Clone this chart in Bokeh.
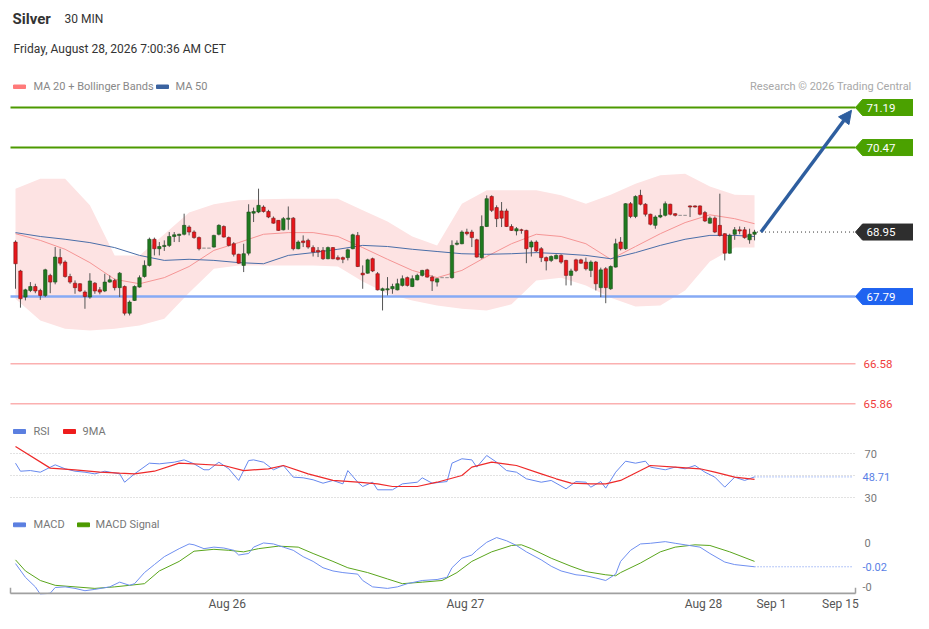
from bokeh.plotting import figure
from bokeh.layouts import column
from bokeh.models import Range1d, ColumnDataSource, Arrow, NormalHead, FixedTicker
from bokeh.core.properties import value
from bokeh.embed import file_html
from bokeh.resources import INLINE

FONT = "Roboto"
W = 913

# ---------------- data ----------------
open_ = [68.77, 68.25, 67.78, 67.90, 67.97, 67.90, 67.81, 68.17, 68.05, 68.49,
         68.41, 68.15, 68.03, 68.02, 67.87, 67.78, 68.03, 67.91, 67.89, 68.05,
         68.08, 67.95, 67.97, 67.49, 67.72, 67.96, 68.15, 68.35, 68.82, 68.65,
         68.69, 68.71, 68.87, 68.89, 68.91, 69.04, 68.95, 68.85, 68.66, 68.66,
         68.68, 68.91, 69.05, 68.85, 68.74, 68.55, 68.35, 68.57, 69.29, 69.31,
         69.40, 69.32, 69.20, 69.16, 68.99, 69.18, 69.20, 68.65, 68.79, 68.80,
         68.67, 68.62, 68.62, 68.47, 68.67, 68.49, 68.49, 68.49, 68.65, 68.89,
         68.21, 68.21, 68.47, 68.20, 67.90, 67.91, 67.93, 67.91, 67.99, 68.13,
         67.97, 68.09, 68.17, 68.27, 68.14, 68.05, 68.13, 68.13, 68.13, 68.73,
         68.74, 68.95, 68.95, 68.81, 68.49, 69.05, 69.59, 69.39, 69.33, 69.33,
         69.05, 68.97, 68.99, 68.98, 68.68, 68.77, 68.65, 68.49, 68.44, 68.47,
         68.53, 68.44, 68.17, 68.45, 68.45, 68.41, 68.26, 68.41, 67.95, 68.29,
         67.93, 68.32, 68.77, 68.65, 69.46, 69.23, 69.61, 69.45, 69.27, 69.07,
         69.22, 69.25, 69.45, 69.28, 69.25, 69.25, 69.42, 69.42, 69.42, 69.30,
         69.11, 69.20, 69.07, 68.92, 68.57, 68.91, 68.99, 68.99, 68.81, 68.91]
close = [68.38, 67.75, 67.91, 67.97, 67.89, 67.81, 68.27, 68.05, 68.50, 68.39,
         68.15, 68.05, 67.95, 67.89, 67.79, 68.07, 67.89, 67.87, 68.05, 68.09,
         67.95, 68.21, 67.49, 67.69, 67.97, 68.13, 68.35, 68.82, 68.65, 68.69,
         68.71, 68.87, 68.90, 68.91, 69.07, 68.95, 68.85, 68.65, 68.66, 68.66,
         68.89, 69.07, 68.86, 68.71, 68.55, 68.39, 68.56, 69.31, 69.32, 69.43,
         69.32, 69.22, 69.11, 68.98, 69.19, 69.20, 68.65, 68.77, 68.76, 68.68,
         68.59, 68.59, 68.47, 68.67, 68.47, 68.46, 68.46, 68.63, 68.90, 68.33,
         68.18, 68.45, 68.25, 67.91, 67.93, 67.93, 67.97, 68.02, 68.11, 67.99,
         68.11, 68.17, 68.26, 68.14, 68.07, 68.11, 68.13, 68.13, 68.71, 68.75,
         68.95, 68.92, 68.85, 68.50, 69.05, 69.55, 69.34, 69.19, 69.20, 69.05,
         68.98, 69.01, 68.98, 68.65, 68.77, 68.61, 68.49, 68.43, 68.51, 68.53,
         68.41, 68.17, 68.25, 68.26, 68.39, 68.29, 68.41, 68.02, 68.27, 67.95,
         68.33, 68.74, 68.65, 69.46, 69.23, 69.59, 69.45, 69.27, 69.09, 69.22,
         69.25, 69.46, 69.27, 69.25, 69.25, 69.25, 69.40, 69.40, 69.27, 69.15,
         69.20, 68.95, 68.89, 68.57, 68.89, 68.99, 68.97, 68.85, 68.91, 68.95]
high = [68.80, 68.27, 67.93, 68.05, 68.02, 67.93, 68.29, 68.20, 68.68, 68.65,
        68.44, 68.20, 68.08, 68.03, 67.90, 68.21, 68.05, 67.96, 68.20, 68.17,
        68.11, 68.23, 67.99, 67.72, 67.99, 68.17, 68.44, 68.85, 68.85, 68.77,
        68.80, 68.95, 68.95, 68.92, 69.28, 69.07, 68.98, 68.87, 68.66, 68.66,
        68.90, 69.09, 69.07, 68.87, 68.77, 68.56, 68.74, 69.45, 69.39, 69.73,
        69.43, 69.35, 69.23, 69.16, 69.22, 69.41, 69.22, 68.80, 68.89, 68.83,
        68.71, 68.68, 68.68, 68.69, 68.68, 68.53, 68.51, 68.65, 68.92, 68.95,
        68.35, 68.47, 68.49, 68.23, 67.95, 68.14, 68.02, 68.11, 68.17, 68.15,
        68.17, 68.20, 68.27, 68.29, 68.17, 68.12, 68.13, 68.13, 68.80, 68.80,
        68.98, 69.01, 68.99, 68.83, 69.25, 69.61, 69.61, 69.43, 69.49, 69.37,
        69.09, 69.04, 69.01, 68.99, 68.80, 68.80, 68.68, 68.51, 68.53, 68.55,
        68.55, 68.45, 68.29, 68.47, 68.47, 68.49, 68.44, 68.43, 68.31, 68.32,
        68.35, 68.83, 68.86, 69.47, 69.49, 69.61, 69.71, 69.47, 69.28, 69.25,
        69.37, 69.50, 69.46, 69.29, 69.25, 69.25, 69.43, 69.43, 69.43, 69.33,
        69.23, 69.23, 69.64, 68.93, 68.92, 69.04, 69.05, 69.04, 69.01, 68.99]
low = [67.93, 67.59, 67.72, 67.87, 67.85, 67.73, 67.78, 67.85, 68.01, 68.35,
       68.13, 68.02, 67.84, 67.87, 67.57, 67.75, 67.84, 67.83, 67.87, 68.04,
       67.90, 67.78, 67.45, 67.45, 67.71, 67.95, 68.13, 68.33, 68.53, 68.53,
       68.61, 68.68, 68.77, 68.77, 68.89, 68.89, 68.83, 68.62, 68.66, 68.66,
       68.67, 68.89, 68.85, 68.69, 68.51, 68.38, 68.23, 68.53, 69.13, 69.29,
       69.30, 69.20, 69.10, 68.97, 68.98, 68.99, 68.62, 68.64, 68.68, 68.65,
       68.51, 68.50, 68.45, 68.46, 68.46, 68.44, 68.39, 68.44, 68.64, 68.32,
       67.93, 68.20, 68.23, 67.90, 67.54, 67.81, 67.84, 67.90, 67.97, 67.97,
       67.96, 68.08, 68.15, 68.13, 67.89, 67.97, 68.13, 68.13, 68.11, 68.71,
       68.73, 68.89, 68.68, 68.49, 68.47, 69.04, 69.31, 69.04, 69.04, 69.04,
       68.97, 68.89, 68.92, 68.39, 68.51, 68.59, 68.41, 68.26, 68.41, 68.46,
       68.38, 67.99, 67.99, 68.23, 68.38, 68.26, 68.14, 67.90, 67.78, 67.67,
       67.91, 68.31, 68.62, 68.63, 69.20, 69.20, 69.43, 69.23, 69.07, 69.01,
       69.20, 69.23, 69.25, 69.23, 69.25, 69.25, 69.22, 69.39, 69.25, 69.13,
       69.10, 68.93, 68.87, 68.44, 68.56, 68.81, 68.91, 68.83, 68.74, 68.80]

band_idx = [0, 5, 10, 15, 20, 25, 30, 35, 40, 45, 50, 55, 60, 65, 70, 75,
            80, 85, 90, 95, 100, 105, 110, 115, 120, 125, 130, 135, 140, 145, 149]
bb_upper = [69.73, 69.91, 69.91, 69.43, 68.53, 68.53, 68.91, 69.30, 69.45, 69.52,
            69.54, 69.55, 69.55, 69.55, 69.34, 69.14, 68.87, 68.71, 69.46, 69.70,
            69.70, 69.70, 69.61, 69.46, 69.62, 69.82, 69.97, 70.00, 69.77, 69.62, 69.61]
bb_lower = [67.75, 67.36, 67.21, 67.18, 67.21, 67.27, 67.39, 67.86, 68.29, 68.35,
            68.35, 68.35, 68.35, 68.33, 68.06, 67.84, 67.72, 67.63, 67.57, 67.54,
            67.65, 68.08, 68.13, 67.99, 67.77, 67.61, 67.63, 67.90, 68.42, 68.67, 68.67]
ma20 = [68.92, 68.80, 68.64, 68.40, 68.10, 68.02, 68.13, 68.33, 68.62, 68.76,
        68.91, 68.94, 68.94, 68.87, 68.67, 68.46, 68.26, 68.13, 68.26, 68.51,
        68.74, 68.91, 68.87, 68.74, 68.46, 68.69, 68.92, 69.12, 69.26, 69.19, 69.10]
ma50 = [68.94, 68.87, 68.82, 68.76, 68.67, 68.53, 68.44, 68.46, 68.44, 68.40,
        68.38, 68.53, 68.58, 68.64, 68.71, 68.69, 68.64, 68.60, 68.56, 68.55,
        68.56, 68.58, 68.56, 68.53, 68.47, 68.58, 68.71, 68.82, 68.89, 68.89, 68.87]

resistances = [71.19, 70.47]
supports = [67.79]
far_supports = [66.58, 65.86]
last_price = 68.95

rsi_idx = [0, 1, 3, 5, 8, 10, 12, 14, 16, 18, 21, 22, 24, 27, 29, 32, 34, 36, 38, 39,
           41, 43, 45, 47, 48, 50, 52, 54, 56, 58, 60, 62, 64, 66, 67, 69, 70, 72, 73, 76,
           78, 81, 82, 84, 87, 88, 90, 92, 93, 95, 97, 99, 101, 103, 106, 108, 111, 113, 115, 116,
           118, 119, 121, 123, 125, 127, 128, 131, 133, 135, 137, 139, 141, 143, 145, 147, 149]
rsi_val = [61.2, 53.9, 54.5, 53.0, 59.7, 56.1, 53.9, 53.0, 51.5, 53.9, 51.5, 43.9, 51.5, 61.2, 60.6, 62.1, 64.2, 60.6, 55.2, 55.2,
           62.1, 56.1, 45.5, 63.6, 64.2, 62.1, 55.2, 59.1, 48.5, 47.9, 46.1, 43.0, 45.5, 42.4, 54.5, 43.9, 40.0, 43.9, 37.0, 37.0,
           42.4, 43.9, 47.9, 43.0, 44.5, 61.2, 65.2, 64.2, 57.6, 68.2, 62.1, 54.5, 53.0, 47.0, 43.9, 45.5, 37.9, 44.5, 43.9, 39.4,
           44.5, 38.5, 53.0, 63.0, 61.2, 63.0, 57.6, 55.2, 57.6, 56.1, 59.1, 53.0, 48.5, 39.4, 48.5, 45.5, 48.71]
rsi_ma_idx = [0, 7, 12, 17, 21, 24, 28, 33, 42, 46, 51, 54, 59, 64, 69, 73, 76, 81,
              85, 90, 92, 96, 101, 106, 109, 112, 116, 119, 122, 126, 128, 133, 138, 141, 145, 149]
rsi_ma_val = [76.4, 56.7, 55.2, 53.0, 52.1, 51.5, 53.9, 61.2, 59.1, 54.5, 56.1, 59.1, 51.5, 45.5, 43.9, 42.4, 40.0, 40.0,
              43.9, 50.0, 57.6, 62.1, 59.1, 51.5, 47.0, 43.0, 42.4, 42.4, 45.5, 54.5, 59.1, 57.6, 56.1, 53.0, 48.5, 46.4]
rsi_levels = [70, 50, 30]
rsi_ticks = [70, 30]

macd_idx = [0, 2, 4, 5, 7, 8, 10, 12, 14, 16, 19, 21, 23, 24, 26, 28, 30, 33, 35, 36,
            38, 40, 42, 44, 45, 47, 48, 50, 52, 54, 56, 58, 60, 62, 64, 66, 69, 70, 72, 75,
            77, 79, 82, 85, 87, 88, 90, 92, 93, 95, 97, 99, 101, 103, 106, 108, 110, 113, 115, 117,
            119, 121, 122, 124, 126, 128, 131, 133, 135, 138, 140, 143, 145, 149]
macd_val = [-0.0188, -0.0313, -0.0400, -0.0467, -0.0458, -0.0406, -0.0400, -0.0414, -0.0435, -0.0423,
            -0.0400, -0.0357, -0.0386, -0.0371, -0.0270, -0.0197, -0.0125, -0.0052, -0.0009, -0.0017,
            -0.0052, -0.0038, -0.0046, -0.0067, -0.0110, -0.0096, -0.0038, 0.0000, -0.0009, -0.0038,
            -0.0067, -0.0125, -0.0168, -0.0226, -0.0255, -0.0270, -0.0284, -0.0342, -0.0400, -0.0414,
            -0.0400, -0.0371, -0.0342, -0.0333, -0.0313, -0.0226, -0.0139, -0.0110, -0.0067, 0.0006,
            0.0049, 0.0020, -0.0023, -0.0081, -0.0154, -0.0212, -0.0255, -0.0290, -0.0299, -0.0319,
            -0.0342, -0.0284, -0.0168, -0.0067, -0.0009, -0.0003, 0.0012, -0.0003, -0.0017, -0.0038,
            -0.0096, -0.0174, -0.0197, -0.0217]
sig_idx = [0, 2, 5, 8, 12, 16, 20, 23, 26, 29, 33, 36, 40, 43, 46, 49, 53, 57, 60, 64,
           67, 71, 75, 78, 82, 86, 89, 92, 96, 100, 102, 104, 108, 112, 115, 119, 121, 122, 126, 130,
           133, 137, 140, 144, 149]
sig_val = [-0.0154, -0.0255, -0.0342, -0.0386, -0.0400, -0.0414, -0.0400, -0.0386, -0.0371, -0.0255,
           -0.0168, -0.0075, -0.0058, -0.0067, -0.0081, -0.0052, -0.0029, -0.0038, -0.0096, -0.0168,
           -0.0226, -0.0270, -0.0328, -0.0371, -0.0357, -0.0342, -0.0270, -0.0168, -0.0081, -0.0023,
           -0.0017, -0.0052, -0.0139, -0.0212, -0.0261, -0.0290, -0.0299, -0.0270, -0.0183, -0.0081,
           -0.0038, -0.0017, -0.0023, -0.0081, -0.0168]
macd_ticks = [0.0, -0.04]
macd_tick_labels = ["0", "-0"]
macd_last_label = "-0.02"

tick_pos = [42.7, 90.7, 138.7, 152.4, 166.3]
tick_labels = ["Aug 26", "Aug 27", "Aug 28", "Sep 1", "Sep 15"]


# ---------------- layout helpers (canvas pixel -> data) ----------------
def ix(px):
    return (px - 15.0) / 4.96


def py(pyy):
    return 71.19 - (pyy - 107.0) / 55.6


def ry(pyy):
    return 70.0 - (pyy - 453.0) / 1.1


def my(pyy):
    return -(pyy - 544.0) / 1150.0


x_range = Range1d(ix(0), ix(W))


def make_fig(h, yr, axis=False, bottom=0):
    p = figure(width=W, height=h, x_range=x_range, y_range=yr, output_backend="svg",
               toolbar_location=None, x_axis_location=("below" if axis else None),
               y_axis_location=None,
               min_border=0, min_border_left=0, min_border_right=0, min_border_top=0,
               min_border_bottom=bottom, outline_line_color=None,
               background_fill_color="white", border_fill_color="white")
    p.grid.visible = False
    return p


def txt(p, x, y, s, color="#333333", size="11px", align="left", style="normal"):
    p.text(x=[x], y=[y], text=[s], text_color=color, text_font_size=size,
           text_align=align, text_baseline="middle", text_font=value(FONT),
           text_font_style=value(style))


L0, L1 = ix(10), ix(855)

# ---------------- price panel ----------------
pp = make_fig(415, Range1d(py(415), py(0)))

pp.varea(x=band_idx, y1=bb_lower, y2=bb_upper, fill_color="#fde3e3")
pp.line(band_idx, ma20, line_color="#f59595", line_width=1)
pp.line(band_idx, ma50, line_color="#4a6ea8", line_width=1)

pp.segment(x0=[L0] * 2, y0=resistances, x1=[L1] * 2, y1=resistances,
           line_color="#4c9a00", line_width=2)
pp.segment(x0=[L0], y0=supports, x1=[L1], y1=supports, line_color="#86aaf5", line_width=2.5)
pp.segment(x0=[L0] * 2, y0=far_supports, x1=[L1] * 2, y1=far_supports,
           line_color="#fbb0b0", line_width=1.5)

idx = list(range(len(close)))
fill = []
edge = []
for o, c in zip(open_, close):
    if c > o:
        fill.append("#1f7a1f"); edge.append("#1d4d1d")
    elif c < o:
        fill.append("#e8161b"); edge.append("#7a1a1a")
    else:
        fill.append("#888888"); edge.append("#888888")
src = ColumnDataSource(dict(x=idx, o=open_, c=close, h=high, l=low,
                            top=[max(a, b) for a, b in zip(open_, close)],
                            bot=[min(a, b) for a, b in zip(open_, close)],
                            fill=fill, edge=edge))
pp.segment(x0="x", y0="l", x1="x", y1="h", source=src, line_color="#555555", line_width=1)
pp.vbar(x="x", width=0.68, top="top", bottom="bot", source=src,
        fill_color="fill", line_color="edge", line_width=0.6)

pp.segment(x0=[len(close) - 0.5], y0=[last_price], x1=[L1], y1=[last_price],
           line_color="#333333", line_width=1, line_dash="1 3")

ac = "#2e5e9f"
pp.add_layout(Arrow(end=NormalHead(size=13, fill_color=ac, line_color=ac),
                    x_start=len(close) + 0.3, y_start=last_price,
                    x_end=ix(851), y_end=resistances[0] - 0.05,
                    line_color=ac, line_width=3.5))

hh = 8.0 / 55.6
badge_levels = resistances + [last_price] + supports
badge_colors = ["#4ba100", "#4ba100", "#2e2e2e", "#1f63f0"]
xs = [[ix(855), ix(862), ix(W + 5), ix(W + 5), ix(862)] for _ in badge_levels]
ys = [[v, v + hh, v + hh, v - hh, v - hh] for v in badge_levels]
pp.patches(xs=xs, ys=ys, fill_color=badge_colors, line_color=badge_colors)
pp.text(x=[ix(866)] * len(badge_levels), y=badge_levels,
        text=["%.2f" % v for v in badge_levels], text_color="white", text_font_size="11.5px",
        text_baseline="middle", text_font=value(FONT))
pp.text(x=[ix(863)] * len(far_supports), y=far_supports,
        text=["%.2f" % v for v in far_supports], text_color="#f03c3c", text_font_size="11.5px",
        text_baseline="middle", text_font=value(FONT))

txt(pp, ix(12), py(18), "Silver", color="#333333", size="15px", style="bold")
txt(pp, ix(64), py(18), "30 MIN", color="#333333", size="12px")
txt(pp, ix(13), py(48), "Friday, August 28, 2026 7:00:36 AM CET", color="#333333", size="12px")
pp.quad(left=[ix(13)], right=[ix(25)], top=[py(84.5)], bottom=[py(88)], color="#ff7a7a")
txt(pp, ix(33), py(86), "MA 20 + Bollinger Bands", color="#888888")
pp.quad(left=[ix(156)], right=[ix(168)], top=[py(84.5)], bottom=[py(88)], color="#3b63a0")
txt(pp, ix(175), py(86), "MA 50", color="#888888")
txt(pp, ix(911), py(86), "Research © 2026 Trading Central", color="#a8a8a8", align="right")

# ---------------- RSI panel ----------------
pr = make_fig(95, Range1d(ry(510), ry(415)))
pr.segment(x0=[L0] * 3, y0=rsi_levels, x1=[L1] * 3, y1=rsi_levels,
           line_color="#c4c4c4", line_width=1, line_dash="1 2")
pr.line(rsi_idx, rsi_val, line_color="#6688ee", line_width=1)
pr.line(rsi_ma_idx, rsi_ma_val, line_color="#ee2a2a", line_width=1.2)
pr.segment(x0=[rsi_idx[-1]], y0=[rsi_val[-1]], x1=[ix(853)], y1=[rsi_val[-1]],
           line_color="#6d8ff0", line_width=1, line_dash="1 2")
pr.quad(left=[ix(13)], right=[ix(25)], top=[ry(429)], bottom=[ry(433)], color="#5b7fe0")
txt(pr, ix(33), ry(431), "RSI", color="#777777")
pr.quad(left=[ix(63)], right=[ix(75)], top=[ry(429)], bottom=[ry(433)], color="#ee1c1c")
txt(pr, ix(82), ry(431), "9MA", color="#777777")
for t in rsi_ticks:
    txt(pr, ix(864), t, str(t), color="#777777")
txt(pr, ix(862), rsi_val[-1], "%.2f" % rsi_val[-1], color="#5a7fe6")

# ---------------- MACD panel + time axis ----------------
pm = make_fig(103, Range1d(my(598), my(510)), axis=True, bottom=15)
pm.line(sig_idx, sig_val, line_color="#5aa51c", line_width=1)
pm.line(macd_idx, macd_val, line_color="#6f8ff0", line_width=1)
pm.segment(x0=[macd_idx[-1]], y0=[macd_val[-1]], x1=[ix(853)], y1=[macd_val[-1]],
           line_color="#6d8ff0", line_width=1, line_dash="1 2")
pm.quad(left=[ix(13)], right=[ix(25)], top=[my(523)], bottom=[my(527)], color="#5b7fe0")
txt(pm, ix(33), my(525), "MACD", color="#777777")
pm.quad(left=[ix(77)], right=[ix(89)], top=[my(523)], bottom=[my(527)], color="#4c9a00")
txt(pm, ix(95), my(525), "MACD Signal", color="#777777")
for v, s in zip(macd_ticks, macd_tick_labels):
    txt(pm, ix(862 if s.startswith("-") else 864), v, s, color="#777777")
txt(pm, ix(862), macd_val[-1], macd_last_label, color="#5a7fe6")

# axis base line with end ticks (drawn inside the panel frame)
pm.segment(x0=[L0], y0=[my(597)], x1=[L1], y1=[my(597)], line_color="#a0a0a0", line_width=2)
pm.segment(x0=[L0, L1], y0=[my(597)] * 2, x1=[L0, L1], y1=[my(591)] * 2,
           line_color="#a0a0a0", line_width=1.5)

ax = pm.xaxis[0]
ax.ticker = FixedTicker(ticks=tick_pos)
ax.major_label_overrides = dict(zip(tick_pos, tick_labels))
ax.major_tick_in = 0
ax.major_tick_out = 0
ax.minor_tick_line_color = None
ax.axis_line_color = None
ax.major_label_standoff = 2
ax.major_label_text_font_size = "12px"
ax.major_label_text_color = "#555555"
ax.major_label_text_font = FONT

layout = column(pp, pr, pm, spacing=0)
open("out.html", "w").write(file_html(layout, INLINE))
